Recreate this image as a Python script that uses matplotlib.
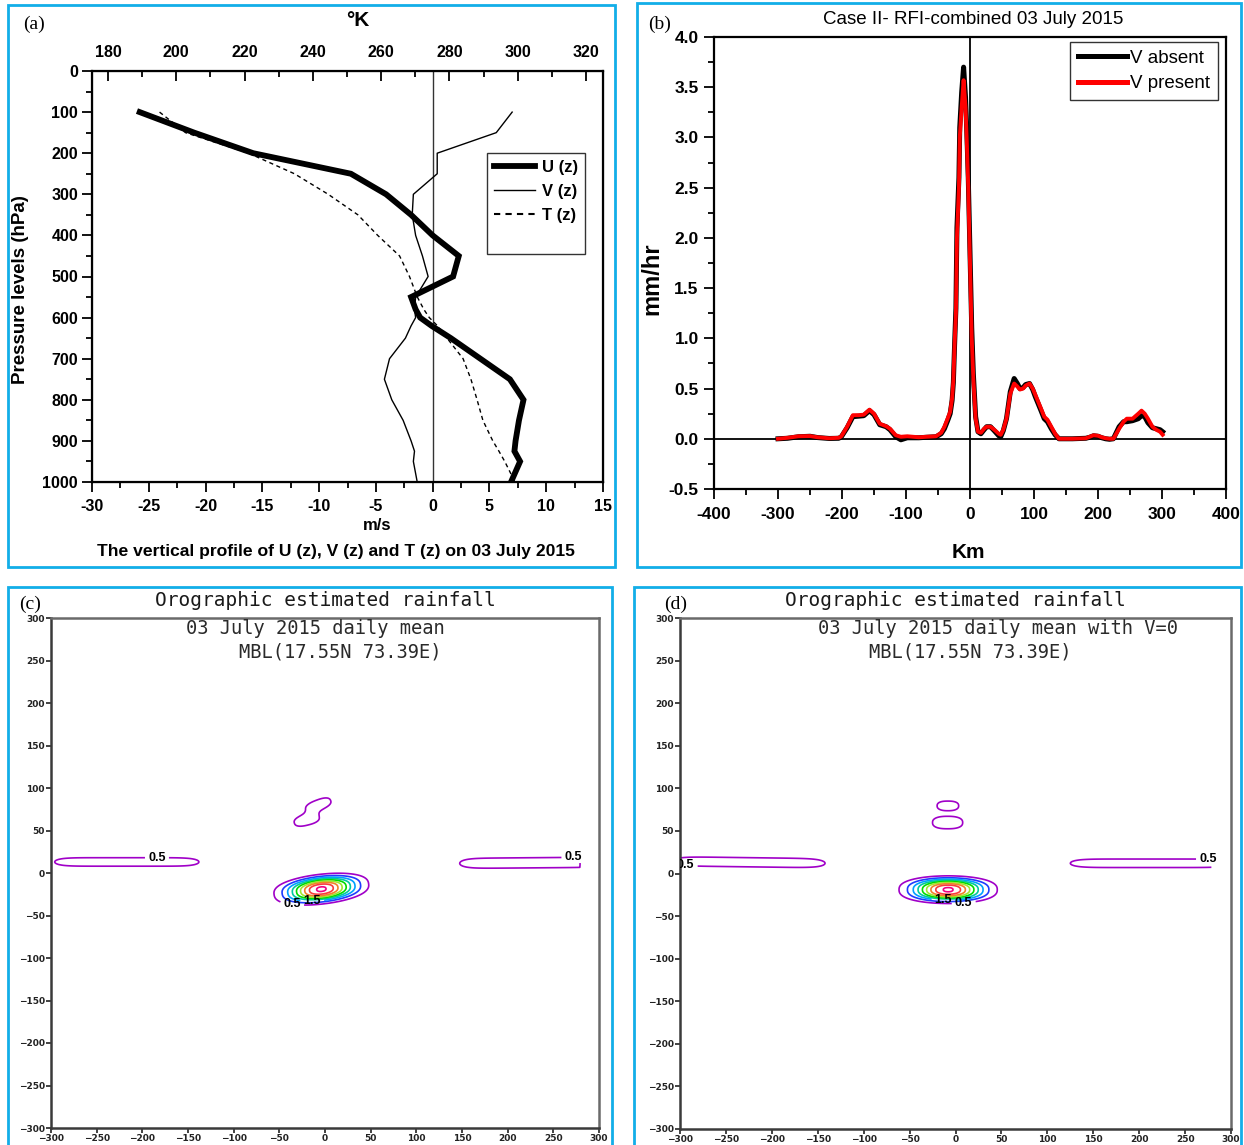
import numpy as np
import matplotlib
matplotlib.use("Agg")
import matplotlib.pyplot as plt
from matplotlib.patches import Rectangle
from matplotlib.lines import Line2D

# ------------------------------------------------------------------ data (a)
p_levels = [100, 150, 200, 250, 300, 350, 400, 450, 500, 550, 580, 600, 620,
            650, 700, 750, 800, 850, 900, 925, 950, 1000]
u_wind = [-25.8, -21.0, -15.8, -7.2, -4.1, -1.9, 0.0, 2.3, 1.8, -1.9, -1.5,
          -1.1, -0.1, 1.6, 4.2, 6.8, 8.0, 7.6, 7.3, 7.2, 7.7, 6.9]
v_wind = [7.0, 5.6, 0.4, 0.4, -1.7, -1.8, -1.5, -0.9, -0.4, -1.5, -1.6,
          -1.5, -1.9, -2.4, -3.8, -4.25, -3.6, -2.6, -1.9, -1.6, -1.7, -1.36]
temp_k = [195.1, 202.7, 221.2, 234.6, 244.5, 253.2, 259.0, 265.4, 268.3,
          270.6, 272.5, 274.1, 276.5, 279.3, 284.0, 286.3, 288.1, 289.8,
          292.7, 294.5, 296.2, 299.2]
wind_ticks = [-30, -25, -20, -15, -10, -5, 0, 5, 10, 15]
temp_ticks = [180, 200, 220, 240, 260, 280, 300, 320]
p_ticks = [0, 100, 200, 300, 400, 500, 600, 700, 800, 900, 1000]

# ------------------------------------------------------------------ data (b)
dist_km = [-300, -285, -268, -250, -238, -220, -205, -201, -192, -183, -174,
           -166, -157, -150, -141, -131, -125, -116, -108, -98, -80, -68, -53,
           -45, -40, -35, -31, -28, -26, -24, -22, -20.4, -17.3, -16, -13,
           -10, -7, -5.2, -2.7, -0.9, 0.9, 2.7, 5.2, 8.8, 12.5, 17, 22, 26,
           32, 38, 45, 48, 52, 57, 63, 69, 74, 78, 83, 87, 93, 98, 102, 111,
           116, 121, 127, 133, 139, 160, 181, 187, 193, 200, 206, 212, 218,
           224, 233, 240, 245, 254, 263, 268, 273, 278, 285, 291, 297, 301]
rain_v_present = [0.0, 0.01, 0.025, 0.027, 0.015, 0.005, 0.01, 0.025, 0.12,
                  0.235, 0.235, 0.24, 0.29, 0.25, 0.15, 0.125, 0.10, 0.035,
                  0.02, 0.025, 0.015, 0.02, 0.025, 0.06, 0.12, 0.2, 0.27, 0.4,
                  0.58, 0.95, 1.25, 2.0, 2.5, 3.0, 3.3, 3.57, 3.3, 3.0, 2.5,
                  2.0, 1.5, 1.0, 0.6, 0.2, 0.07, 0.06, 0.1, 0.12, 0.12, 0.09,
                  0.05, 0.04, 0.09, 0.2, 0.45, 0.55, 0.52, 0.49, 0.5, 0.53,
                  0.55, 0.5, 0.44, 0.3, 0.22, 0.19, 0.12, 0.05, 0.0, 0.0,
                  0.005, 0.02, 0.035, 0.03, 0.015, 0.005, 0.0, 0.0, 0.1, 0.17,
                  0.2, 0.2, 0.25, 0.28, 0.25, 0.2, 0.12, 0.09, 0.07, 0.04]
rain_v_absent = [0.0, 0.005, 0.02, 0.025, 0.012, 0.003, 0.005, 0.02, 0.11,
                 0.22, 0.225, 0.23, 0.28, 0.24, 0.14, 0.12, 0.09, 0.02,
                 -0.01, 0.01, 0.01, 0.015, 0.02, 0.05, 0.1, 0.18, 0.25, 0.38,
                 0.56, 0.95, 1.3, 2.1, 2.6, 3.1, 3.45, 3.70, 3.4, 3.1, 2.6,
                 2.1, 1.6, 1.1, 0.65, 0.22, 0.07, 0.05, 0.09, 0.12, 0.12, 0.08,
                 0.03, 0.02, 0.08, 0.2, 0.47, 0.6, 0.55, 0.5, 0.51, 0.54,
                 0.55, 0.49, 0.42, 0.28, 0.2, 0.17, 0.1, 0.04, 0.0, 0.0,
                 0.005, 0.015, 0.03, 0.025, 0.01, 0.0, -0.005, 0.0, 0.12, 0.17,
                 0.17, 0.18, 0.2, 0.23, 0.22, 0.16, 0.11, 0.1, 0.09, 0.07]
km_ticks = [-400, -300, -200, -100, 0, 100, 200, 300, 400]
rain_ticks = [-0.5, 0.0, 0.5, 1.0, 1.5, 2.0, 2.5, 3.0, 3.5, 4.0]

# ------------------------------------------------------------------ data (c), (d)
# rain-field components: centre (km), widths (km), amplitude (mm/hr), tilt (deg), shape exponents
c_x0 = [-4, -7.3, -20, -217, 226]
c_y0 = [-19, 80, 62.3, 13, 12]
c_sx = [35, 17.9, 17.3, 90.5, 90]
c_sy = [12.7, 7.42, 7.42, 8.6, 10.3]
c_amp = [4.6, 0.9, 0.9, 0.7, 0.7]
c_ang = [7, 22, 15, 0, 0.5]
c_px = [2, 2.5, 2.5, 8, 8]
c_py = [2.5, 2.5, 2.5, 2, 2]

d_x0 = [-8, -8.3, -8.6, -225, 212]
d_y0 = [-19, 79.5, 59.8, 13.2, 12]
d_sx = [35.9, 14.0, 19.6, 95.1, 99.7]
d_sy = [11.8, 6.6, 8.7, 9.3, 8.6]
d_amp = [4.6, 0.95, 0.95, 0.7, 0.7]
d_ang = [0, 0, 0, -0.8, 0]
d_px = [2, 2.5, 2.5, 8, 8]
d_py = [2.5, 2.5, 2.5, 2, 2]
data_x_max = 279  # eastern edge of the computed domain (km)

contour_levels = [0.5, 1.0, 1.5, 2.0, 2.5, 3.0, 3.5, 4.0, 4.5]
contour_colors = ["#a000c8", "#1e3cff", "#00a0ff", "#00c8a0", "#00dc00",
                  "#a0e632", "#f08228", "#fa3c3c", "#f00082"]
grid_ticks = [-300, -250, -200, -150, -100, -50, 0, 50, 100, 150, 200, 250, 300]
c_labels = {0.5: [(-184, 14), (272, 15), (-36, -37)], 1.5: [(-14, -30)]}
d_labels = {0.5: [(-294, 7), (275, 17.5), (9, -35)], 1.5: [(-13, -29)]}

# ------------------------------------------------------------------ figure
W, H, DPI = 1244, 1145, 100
fig = plt.figure(figsize=(W / DPI, H / DPI), dpi=DPI)
SANS = ["Liberation Sans", "DejaVu Sans"]
SERIF = ["Liberation Serif", "DejaVu Serif"]
MONO = ["DejaVu Sans Mono"]


def ax_rect(l, r, t, b):
    return [l / W, 1 - b / H, (r - l) / W, (b - t) / H]


def ftext(x, y, s, **kw):
    return fig.text(x / W, 1 - y / H, s, **kw)


def hy(v):
    return ("%g" % v).replace("\u2212", "-")


BORDER = "#12aee8"
for (l, t, r, b) in [(8, 5, 615, 567), (637, 3, 1241, 567), (8, 587, 612, 1150), (634, 587, 1241, 1150)]:
    fig.patches.append(Rectangle((l / W, 1 - b / H), (r - l) / W, (b - t) / H,
                                 transform=fig.transFigure, fill=False,
                                 edgecolor=BORDER, linewidth=2.0, zorder=0))

# ------------------------------------------------------------------ panel (a)
axa = fig.add_axes(ax_rect(92, 603, 71, 482))
axa.plot(u_wind, p_levels, color="black", lw=4.2, solid_joinstyle="miter", zorder=3)
axa.plot(v_wind, p_levels, color="black", lw=1.0, zorder=3)
axa.axvline(0, color="#333333", lw=1.0, zorder=1)
axa.set_xlim(-30, 15)
axa.set_ylim(1000, 0)
axa.set_xticks(wind_ticks, labels=[hy(v) for v in wind_ticks])
axa.set_xticks(np.arange(-30, 15.1, 2.5), minor=True)
axa.set_yticks(p_ticks, labels=[str(v) for v in p_ticks])
axa.set_yticks(np.arange(0, 1001, 50), minor=True)
axa.tick_params(which="both", top=False, right=False, direction="out", width=1.3)
axa.tick_params(which="major", length=7, labelsize=11.5, pad=3)
axa.tick_params(axis="x", which="major", pad=5)
axa.tick_params(which="minor", length=4)
for s in axa.spines.values():
    s.set_linewidth(1.6)
axt = axa.twiny()
axt.plot(temp_k, p_levels, color="black", lw=1.0, ls=(0, (3, 2.5)), zorder=3)
axt.set_xlim(175.31, 324.98)
axt.set_ylim(1000, 0)
axt.set_xticks(temp_ticks, labels=[str(v) for v in temp_ticks])
axt.set_xticks(np.arange(180, 321, 10), minor=True)
axt.tick_params(which="both", direction="in", width=1.3)
axt.tick_params(which="major", length=7, labelsize=11.5, pad=8)
axt.tick_params(which="minor", length=4)
for a in (axa, axt):
    for lab in a.get_xticklabels() + a.get_yticklabels():
        lab.set_fontweight("bold")
        lab.set_family(SANS)
handles = [Line2D([], [], color="black", lw=4.2), Line2D([], [], color="black", lw=1.0),
           Line2D([], [], color="black", lw=1.5, ls=(0, (3, 2.5))), Line2D([], [], color="none")]
leg = axa.legend(handles, ["U (z)", "V (z)", "T (z)", " "], loc="upper left",
                 bbox_to_anchor=(0.773, 0.80), frameon=True, fancybox=False,
                 edgecolor="black", handlelength=2.5, handletextpad=0.4,
                 labelspacing=0.55, borderpad=0.4, borderaxespad=0,
                 prop={"family": SANS, "weight": "bold", "size": 12})
leg.get_frame().set_linewidth(1.0)
ftext(358, 21, "\u00b0K", ha="center", va="center", fontsize=15, fontweight="bold", family=SANS)
ftext(377, 525, "m/s", ha="center", va="center", fontsize=12, fontweight="bold", family=SANS)
ftext(336, 551, "The vertical profile of U (z), V (z) and T (z) on 03 July 2015",
      ha="center", va="center", fontsize=12.6, fontweight="bold", family=SANS)
ftext(21, 290, "Pressure levels (hPa)", ha="center", va="center", rotation=90,
      fontsize=13.5, fontweight="bold", family=SANS)
ftext(34, 24, "(a)", ha="center", va="center", fontsize=14, family=SERIF)

# ------------------------------------------------------------------ panel (b)
axb = fig.add_axes(ax_rect(714, 1226, 37, 489))
axb.plot(dist_km, rain_v_absent, color="black", lw=3.6, zorder=3)
axb.plot(dist_km, rain_v_present, color="#ff0000", lw=2.8, zorder=4)
axb.axhline(0, color="black", lw=1.3, zorder=2)
axb.axvline(0, color="black", lw=1.3, zorder=2)
axb.set_xlim(-400, 400)
axb.set_ylim(-0.5, 4.0)
axb.set_xticks(km_ticks, labels=[hy(v) for v in km_ticks])
axb.set_xticks(np.arange(-400, 401, 50), minor=True)
axb.set_yticks(rain_ticks, labels=["%.1f" % v if v >= 0 else "-%.1f" % -v for v in rain_ticks])
axb.set_yticks(np.arange(-0.5, 4.01, 0.25), minor=True)
axb.tick_params(which="both", top=False, right=False, direction="out", width=1.3)
axb.tick_params(which="major", length=7, labelsize=12.5, pad=4)
axb.tick_params(axis="x", which="major", pad=6)
axb.tick_params(which="minor", length=4)
for lab in axb.get_xticklabels() + axb.get_yticklabels():
    lab.set_fontweight("bold")
    lab.set_family(SANS)
for s in axb.spines.values():
    s.set_linewidth(1.6)
legb = axb.legend([Line2D([], [], color="black", lw=3.6), Line2D([], [], color="#ff0000", lw=3.6)],
                  ["V absent", "V present"], loc="upper right", bbox_to_anchor=(0.984, 0.989),
                  frameon=True, fancybox=False, edgecolor="black", handlelength=2.6,
                  handletextpad=0.2, labelspacing=0.45, borderpad=0.4, borderaxespad=0,
                  prop={"family": SANS, "size": 13.5})
legb.get_frame().set_linewidth(1.0)
ftext(973, 20, "Case II- RFI-combined 03 July 2015", ha="center", va="center",
      fontsize=13.5, family=SANS)
ftext(652, 279, "mm/hr", ha="center", va="center", rotation=90, fontsize=17,
      fontweight="bold", family=SANS)
ftext(968, 553, "Km", ha="center", va="center", fontsize=15, fontweight="bold", family=SANS)
ftext(660, 24, "(b)", ha="center", va="center", fontsize=14, family=SERIF)

# ------------------------------------------------------------------ panels (c), (d)
gx = np.arange(-300, 300.5, 1.0)
gy = np.arange(-300, 300.5, 1.0)
GX, GY = np.meshgrid(gx, gy)


def rain_field(x0s, y0s, sxs, sys_, amps, angs, pxs, pys):
    Z = np.zeros_like(GX)
    for x0, y0, sx, sy, amp, ang, px, py in zip(x0s, y0s, sxs, sys_, amps, angs, pxs, pys):
        a = np.deg2rad(ang)
        u = (GX - x0) * np.cos(a) + (GY - y0) * np.sin(a)
        v = -(GX - x0) * np.sin(a) + (GY - y0) * np.cos(a)
        Z += amp * np.exp(-np.abs(u / sx) ** px - np.abs(v / sy) ** py)
    Z[:, gx > data_x_max] = 0.0
    return Z


def grads_panel(rect, Z, labels, sub1, sub1_xy, sub2_xy, title_xy, tag_xy, tag):
    ax = fig.add_axes(rect)
    ax.set_xlim(-300, 300)
    ax.set_ylim(-300, 300)
    for lev, col in zip(contour_levels, contour_colors):
        cs = ax.contour(GX, GY, Z, levels=[lev], colors=[col], linewidths=1.2)
        if lev in labels:
            txts = ax.clabel(cs, manual=labels[lev], inline=True, inline_spacing=2,
                             fmt="%.1f", fontsize=9, colors="black")
            for t in txts:
                t.set_fontweight("bold")
                t.set_family(SANS)
                t.set_rotation(0)
                t.set_clip_on(True)
    ax.set_xlim(-300, 300)
    ax.set_ylim(-300, 300)
    ax.set_xticks(grid_ticks, labels=[("%d" % v).replace("-", "\u2212") for v in grid_ticks])
    ax.set_yticks(grid_ticks, labels=[("%d" % v).replace("-", "\u2212") for v in grid_ticks])
    ax.tick_params(direction="out", length=3.5, width=1.2, labelsize=6.5, pad=1,
                   colors="#222222")
    for lab in ax.get_xticklabels() + ax.get_yticklabels():
        lab.set_fontweight("bold")
        lab.set_family(["DejaVu Sans"])
    for k, s in ax.spines.items():
        s.set_linewidth(1.8)
        s.set_color("#3a3a3a" if k in ("left", "bottom") else "#6a6a6a")
    ftext(title_xy[0], title_xy[1], "Orographic estimated rainfall", ha="center",
          va="center", fontsize=14, family=MONO, color="#1a1a1a")
    ftext(sub1_xy[0], sub1_xy[1], sub1, ha="center", va="center", fontsize=13.5,
          family=MONO, color="#2a2a2a")
    ftext(sub2_xy[0], sub2_xy[1], "MBL(17.55N 73.39E)", ha="center", va="center",
          fontsize=13.5, family=MONO, color="#2a2a2a")
    ftext(tag_xy[0], tag_xy[1], tag, ha="center", va="center", fontsize=14, family=SERIF)
    return ax


Zc = rain_field(c_x0, c_y0, c_sx, c_sy, c_amp, c_ang, c_px, c_py)
Zd = rain_field(d_x0, d_y0, d_sx, d_sy, d_amp, d_ang, d_px, d_py)
grads_panel(ax_rect(51, 599, 618, 1128), Zc, c_labels, "03 July 2015 daily mean",
            (315, 629), (340, 652), (325, 601), (30, 604), "(c)")
grads_panel(ax_rect(680, 1231, 618, 1129), Zd, d_labels, "03 July 2015 daily mean with V=0",
            (998, 629), (970, 652), (955, 601), (676, 604), "(d)")

fig.savefig("out.png", dpi=DPI)
